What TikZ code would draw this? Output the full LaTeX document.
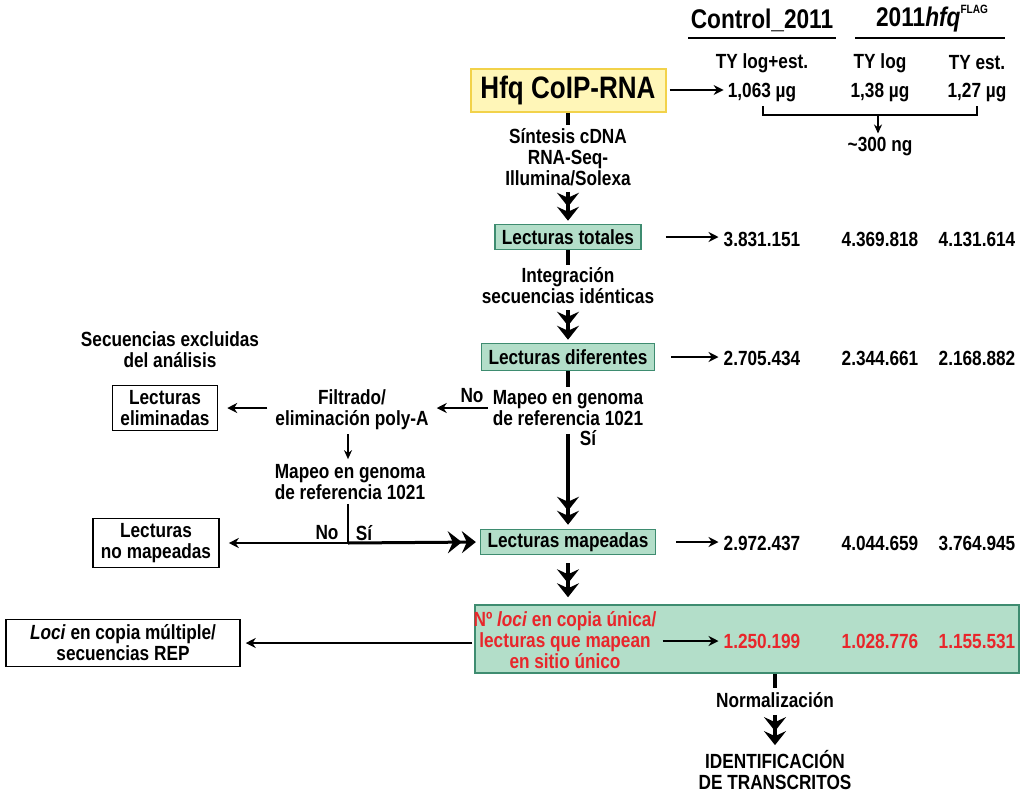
\documentclass[tikz,border=0pt]{standalone}
\usepackage{fontspec}
\setmainfont{Liberation Sans}[FakeStretch=0.84]
\usetikzlibrary{arrows.meta}
\definecolor{boxgreen}{HTML}{B3DEC9}
\definecolor{boxedge}{HTML}{3E8C70}
\definecolor{hfqfill}{HTML}{FFF6B8}
\definecolor{hfqedge}{HTML}{F2D24A}
\definecolor{redtxt}{HTML}{E8262B}
\tikzset{
  txt/.style={font=\fontsize{20.5}{21}\selectfont\bfseries, inner sep=0pt, align=center},
  greenbox/.style={txt, draw=boxedge, fill=boxgreen, line width=1.5pt, minimum height=25pt, inner xsep=7pt},
  whitebox/.style={txt, draw=black, line width=1.5pt, inner xsep=8pt, inner ysep=5pt},
  arr/.style={-{Stealth[length=10pt,width=10pt]}, line width=2.4pt},
  thinarr/.style={-{Stealth[length=9pt,width=8pt]}, line width=1.6pt},
  bigarr/.style={-{Stealth[length=14pt,width=22pt,inset=5pt] Stealth[length=14pt,width=22pt,inset=5pt]}, line width=3.5pt},
  tick/.style={line width=3.5pt},
  num/.style={txt},
  rednum/.style={txt, text=redtxt}
}
\begin{document}
\begin{tikzpicture}[x=1pt,y=-1pt]
\useasboundingbox (0,0) rectangle (1021,793);

% headers
\node[txt, font=\fontsize{27}{28}\selectfont\bfseries] (h1) at (762,20) {Control\_2011};
\node[txt, font=\fontsize{27}{28}\selectfont\bfseries] (h2) at (932,19) {2011\textit{hfq}\raisebox{0.9ex}{\fontsize{12}{12}\selectfont FLAG}};
\draw[line width=1.5pt] (688,38) -- (836,38);
\draw[line width=1.5pt] (855,38) -- (1005,38);
\node[txt] (s1) at (762,63) {TY log+est.};
\node[txt] (s2) at (880,63) {TY log};
\node[txt] (s3) at (977,63) {TY est.};

% Hfq box
\node[txt, font=\fontsize{31}{32}\selectfont\bfseries, draw=hfqedge, fill=hfqfill, line width=2pt, minimum width=195pt, minimum height=43pt] (hfq) at (568,90) {Hfq CoIP-RNA};
\node[num] (m1) at (762,93) {1,063 µg};
\node[num] (m2) at (880,93) {1,38 µg};
\node[num] (m3) at (977,93) {1,27 µg};
\draw[arr, shorten <=3pt, shorten >=4pt] (hfq.east) -- (hfq.east -| m1.west);
\draw[line width=1.5pt] (763,106) -- (763,115) -- (977,115) -- (977,106);
\coordinate (bmid) at (878,115);
\node[txt] (ng) at (880,147) {\textasciitilde300 ng};
\draw[thinarr, shorten >=4pt] (bmid) -- (bmid |- ng.north);

% main column
\node[txt] (t1) at (568,157) {Síntesis cDNA\\RNA-Seq-\\Illumina/Solexa};
\draw[tick, shorten >=3pt] (hfq.south) -- (t1.north);
\node[greenbox] (tot) at (568,237) {Lecturas totales};
\draw[bigarr, shorten <=6pt, shorten >=3pt] (t1.south) -- (tot.north);
\node[num] (n11) at (762,239) {3.831.151};
\node[num] (n12) at (880,239) {4.369.818};
\node[num] (n13) at (977,239) {4.131.614};
\draw[arr, shorten <=24pt, shorten >=5pt] (tot.east) -- (tot.east -| n11.west);

\node[txt] (int) at (568,286) {Integración\\secuencias idénticas};
\draw[tick, shorten >=3pt] (tot.south) -- (int.north);
\node[greenbox, minimum height=27pt] (dif) at (568,357) {Lecturas diferentes};
\draw[bigarr, shorten <=6pt, shorten >=3pt] (int.south) -- (dif.north);
\node[num] (n21) at (762,358) {2.705.434};
\node[num] (n22) at (880,358) {2.344.661};
\node[num] (n23) at (977,358) {2.168.882};
\draw[arr, shorten <=16pt, shorten >=5pt] (dif.east) -- (dif.east -| n21.west);

\node[txt] (map1) at (568,408) {Mapeo en genoma\\de referencia 1021};
\draw[tick, shorten >=3pt] (dif.south) -- (map1.north);
\node[txt] (no1) at (472,396) {No};
\node[txt] (si1) at (588,438) {Sí};

\node[txt] (filt) at (352,410) {Filtrado/\\eliminación poly-A};
\draw[arr, shorten <=5pt, shorten >=8pt] (map1.west) -- (map1.west -| filt.east);
\node[whitebox] (elim) at (165,408) {Lecturas\\eliminadas};
\draw[arr, shorten <=8pt, shorten >=9pt] (filt.west |- elim.east) -- (elim.east);

\node[txt] (map2) at (350,482) {Mapeo en genoma\\de referencia 1021};
\draw[thinarr, shorten <=4pt, shorten >=5pt] (filt.south -| 348,0) -- (map2.north -| 348,0);

\node[greenbox] (map) at (568,542) {Lecturas mapeadas};
\draw[bigarr, shorten <=8pt, shorten >=4pt] (map1.south) -- (map.north);
\node[num] (n31) at (762,543) {2.972.437};
\node[num] (n32) at (880,543) {4.044.659};
\node[num] (n33) at (977,543) {3.764.945};
\draw[arr, shorten <=20pt, shorten >=5pt] (map.east) -- (map.east -| n31.west);

\coordinate (j) at (348,543);
\draw[line width=2.2pt, shorten <=4pt] (map2.south -| j) -- (j);
\node[txt] (no2) at (327,533) {No};
\node[txt] (si2) at (364,533) {Sí};
\node[whitebox] (nomap) at (156,543) {Lecturas\\no mapeadas};
\draw[arr, shorten >=9pt] (j) -- (nomap.east);
\draw[bigarr, line width=3pt, shorten >=4pt] (j) -- (map.west);

% big green box
\node[draw=boxedge, fill=boxgreen, line width=1.5pt, minimum width=544pt, minimum height=68pt, inner sep=0pt] (big) at (747,639) {};
\draw[bigarr, shorten <=8pt, shorten >=7pt] (map.south) -- (map.south |- big.north);
\node[txt, text=redtxt] (red) at (565,640) {N\textordmasculine\ \textit{loci} en copia única/\\lecturas que mapean\\en sitio único};
\node[rednum] (n41) at (762,641) {1.250.199};
\node[rednum] (n42) at (880,641) {1.028.776};
\node[rednum] (n43) at (977,641) {1.155.531};
\draw[arr, shorten <=6pt, shorten >=5pt] (red.east |- n41) -- (n41.west);

\node[whitebox, minimum width=234pt, minimum height=47pt] (loci) at (123,643) {\textit{Loci} en copia múltiple/\\secuencias REP};
\draw[arr, shorten <=2pt, shorten >=5pt] (big.west |- loci.east) -- (loci.east);

\node[txt] (norm) at (775,700) {Normalización};
\draw[tick, shorten >=4pt] (big.south -| norm) -- (norm.north);
\node[txt] (ident) at (775,770) {IDENTIFICACIÓN\\DE TRANSCRITOS};
\draw[bigarr, shorten <=7pt, shorten >=5pt] (norm.south) -- (ident.north);

\node[txt] (excl) at (170,350) {Secuencias excluidas\\del análisis};
\end{tikzpicture}
\end{document}
